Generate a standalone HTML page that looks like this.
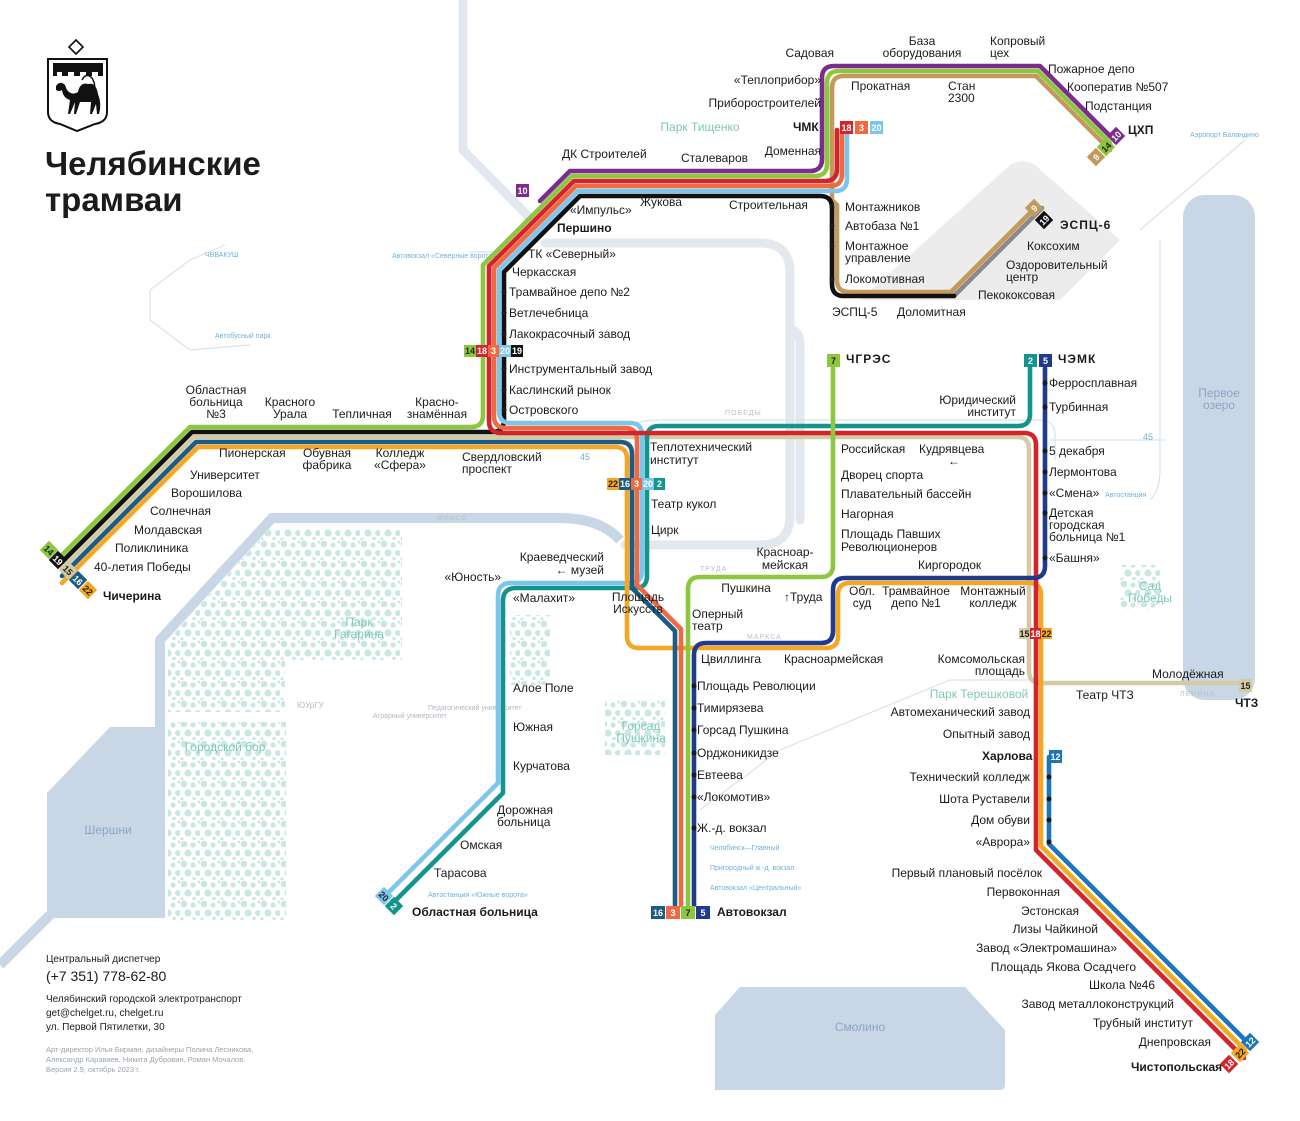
<!DOCTYPE html>
<html><head><meta charset="utf-8">
<style>
html,body{margin:0;padding:0;background:#fff}
svg{display:block}
text{font-family:"Liberation Sans",sans-serif;fill:#1b1b1b}
.s{font-size:12px}
.b{font-size:12px;font-weight:bold}
text.g{fill:#7cc9b8}
text.w{fill:#8aa6c4}
text.lb{fill:#6fb0de}
text.gr{fill:#b0b8c0}
text.st{fill:#b8c2cc;font-size:7px;letter-spacing:1px}
text.cr{fill:#9aa3ab;font-size:7.5px}
text.bd{font-size:9px;font-weight:bold;fill:#fff;text-anchor:middle}
text.bk{fill:#222}
</style></head><body>
<svg width="1300" height="1121" viewBox="0 0 1300 1121" xmlns="http://www.w3.org/2000/svg">
<defs>
<pattern id="park" width="20" height="20" patternUnits="userSpaceOnUse">
<circle cx="4" cy="4" r="3.3" fill="#c9e8df"/><circle cx="13" cy="5" r="2.6" fill="#c9e8df"/><circle cx="18" cy="13" r="3" fill="#c9e8df"/><circle cx="8" cy="13" r="3.6" fill="#c9e8df"/><circle cx="14" cy="18.5" r="1.8" fill="#c9e8df"/><circle cx="2" cy="19" r="1.6" fill="#c9e8df"/><circle cx="19" cy="2" r="1.5" fill="#c9e8df"/>
</pattern>
</defs>
<!-- water -->
<g fill="#c8d6e6">
<path d="M47 793 L110 727 L165 727 L165 918 L47 918 Z"/>
<rect x="1183" y="195" width="72" height="505" rx="22"/>
<path d="M740 987 L965 987 L1005 1030 L1005 1085 Q1005 1090 1000 1090 L715 1090 L715 1015 Z"/>
</g>
<g fill="none" stroke="#c8d6e6" stroke-width="10" stroke-linejoin="round">
<path d="M160 727 V640 L272 518 H560 Q600 518 620 540"/>
<path d="M50 915 L0 965"/>
</g>
<!-- roads -->
<g fill="none" stroke="#e2e8ee" stroke-width="9" stroke-linejoin="round" stroke-linecap="round">
<path d="M463 0 V150 L530 218"/>
<path d="M545 243 H760 Q790 243 790 273 V515 Q790 545 760 545 H625"/>
<path d="M790 330 Q800 330 800 345 V520"/>
</g>
<g fill="none" stroke="#d6e4ef" stroke-width="1.2">
<path d="M620 433 Q630 420 660 420 H1040 Q1055 420 1055 435 V460"/>
<path d="M150 290 L190 260 L225 245"/>
<path d="M150 290 V320 L190 350 L250 345"/>
<path d="M470 252 L520 252"/>
<path d="M1160 240 V470 Q1160 490 1150 500"/>
<path d="M1050 440 H1165"/>
<path d="M1140 230 L1245 140"/>
<path d="M700 810 L780 750 L950 680 L1040 680"/>
</g>
<!-- industrial zone -->
<path d="M860 300 L1010 165 Q1022 158 1035 165 L1120 240 L1060 300 Z" fill="#ececec"/>
<!-- parks -->
<g fill="url(#park)">
<path d="M168 640 L270 528 H402 V660 H285 V712 H168 Z"/>
<rect x="168" y="722" width="118" height="198"/>
<rect x="510" y="615" width="40" height="70"/>
<rect x="605" y="700" width="60" height="55"/>
<rect x="1120" y="565" width="40" height="45"/>
</g>
<text x="359" y="626" font-size="12" class="g" text-anchor="middle">Парк</text>
<text x="359" y="638" font-size="12" class="g" text-anchor="middle">Гагарина</text>
<text x="225" y="751" font-size="12" class="g" text-anchor="middle">Городской бор</text>
<text x="108" y="834" font-size="12" class="w" text-anchor="middle">Шершни</text>
<text x="1219" y="397" font-size="12" class="w" text-anchor="middle">Первое</text>
<text x="1219" y="409" font-size="12" class="w" text-anchor="middle">озеро</text>
<text x="860" y="1031" font-size="12" class="w" text-anchor="middle">Смолино</text>
<text x="700" y="131" font-size="12" class="g" text-anchor="middle">Парк Тищенко</text>
<text x="979" y="698" font-size="12" class="g" text-anchor="middle">Парк Терешковой</text>
<text x="1150" y="590" font-size="12" class="g" text-anchor="middle">Сад</text>
<text x="1150" y="602" font-size="12" class="g" text-anchor="middle">Победы</text>
<text x="641" y="730" font-size="12" class="g" text-anchor="middle">Горсад</text>
<text x="641" y="742" font-size="12" class="g" text-anchor="middle">Пушкина</text>
<text x="437" y="520" class="st">МИАСС</text>
<text x="725" y="415" class="st">ПОБЕДЫ</text>
<text x="700" y="571" class="st">ТРУДА</text>
<text x="747" y="639" class="st">МАРКСА</text>
<text x="1180" y="696" class="st">ЛЕНИНА</text>
<text x="580" y="460" font-size="9" class="lb">45</text>
<text x="1143" y="440" font-size="9" class="lb">45</text>
<text x="297" y="708" font-size="8" class="gr">ЮУрГУ</text>
<text x="373" y="718" font-size="7" class="gr">Аграрный университет</text>
<text x="428" y="710" font-size="7" class="gr">Педагогический университет</text>
<text x="215" y="338" font-size="7" class="lb">Автобусный парк</text>
<text x="205" y="257" font-size="7" class="lb">ЧВВАКУШ</text>
<text x="392" y="258" font-size="7" class="lb">Автовокзал «Северные ворота»</text>
<text x="1190" y="137" font-size="7" class="lb">Аэропорт Баландино</text>
<text x="1105" y="497" font-size="7" class="lb">Автостанция</text>
<text x="710" y="850" font-size="7" class="lb">Челябинск—Главный</text>
<text x="710" y="870" font-size="7" class="lb">Пригородный ж.-д. вокзал</text>
<text x="710" y="890" font-size="7" class="lb">Автовокзал «Центральный»</text>
<text x="428" y="897" font-size="7" class="lb">Автостанция «Южные ворота»</text>

<!-- tram lines -->
<g fill="none" stroke-width="4.6" stroke-linejoin="round" stroke-linecap="round">
<path stroke="#d3cba4" d="M62 569 L194 437 H1017 Q1029 437 1029 449 V671 Q1029 683 1041 683 H1245"/>
<path stroke="#8a8a8a" d="M1042 208 L954 296"/>
<path stroke="#c49a5c" d="M1110 150 L1036 76 H844 Q832 76 832 88 V200 L837 205 V280 Q837 292 849 292 H951 L1033 210"/>
<path stroke="#111" d="M954 296 H844 Q832 296 832 284 V208 Q832 196 820 196 H580 L504 272 V420 Q504 432 492 432 H192 L62 562"/>
<path stroke="#7b2c8c" d="M540 201 L570 171 H810 Q822 171 822 159 V78 Q822 66 834 66 H1040 L1110 136"/>
<path stroke="#8dc63f" d="M62 555 L190 427 H471 Q483 427 483 415 V265 L572 176 H815 Q827 176 827 164 V83 Q827 71 839 71 H1038 L1110 143"/>
<path stroke="#7cc6ee" d="M388 893 L498 783 V596 Q498 583 511 583 H630 Q642 583 642 571 V435 Q642 423 630 423 H511 Q499 423 499 411 V270 L578 191 H835 Q847 191 847 179 V130"/>
<path stroke="#13948c" d="M396 900 L503 793 V601 Q503 588 516 588 H635 Q647 588 647 576 V438 Q647 426 659 426 H1018 Q1030 426 1030 414 V368"/>
<path stroke="#f5a623" d="M62 583 L198 447 H615 Q627 447 627 459 V636 Q627 648 639 648 H826 Q838 648 838 636 V595 Q838 583 850 583 H1029 Q1041 583 1041 595 V846 L1245 1050"/>
<path stroke="#1b5b84" d="M62 576 L196 442 H620 Q632 442 632 454 V588 L675 631 V905"/>
<path stroke="#ee6a42" d="M681 905 V629 L637 585 V440 Q637 428 625 428 H506 Q494 428 494 416 V268 L576 186 H830 Q842 186 842 174 V130"/>
<path stroke="#d3232b" d="M1244 1058 L1036 850 V445 Q1036 433 1024 433 H501 Q489 433 489 421 V266 L574 181 H825 Q837 181 837 169 V130"/>
<path stroke="#8dc63f" d="M833 368 V565 Q833 577 821 577 H700 Q688 577 688 589 V905"/>
<path stroke="#203a8c" d="M694 905 V655 Q694 643 706 643 H821 Q833 643 833 631 V590 Q833 578 845 578 H1033 Q1045 578 1045 566 V368"/>
<path stroke="#1b75bb" d="M1049 757 V844 L1248 1043"/>
</g>
<!-- station dots -->
<g fill="#1b1b1b">
<circle cx="504" cy="292" r="2.5"/><circle cx="504" cy="313" r="2.5"/><circle cx="504" cy="334" r="2.5"/><circle cx="504" cy="369" r="2.5"/><circle cx="504" cy="390" r="2.5"/><circle cx="504" cy="410" r="2.5"/>
<circle cx="832" cy="207" r="2.5"/><circle cx="832" cy="226" r="2.5"/><circle cx="832" cy="246" r="2.5"/><circle cx="832" cy="279" r="2.5"/>
<circle cx="694" cy="686" r="2.5"/><circle cx="694" cy="708" r="2.5"/><circle cx="694" cy="730" r="2.5"/><circle cx="694" cy="753" r="2.5"/><circle cx="694" cy="775" r="2.5"/><circle cx="694" cy="797" r="2.5"/><circle cx="694" cy="828" r="2.5"/>
<circle cx="1045" cy="383" r="2.5"/><circle cx="1045" cy="407" r="2.5"/><circle cx="1045" cy="451" r="2.5"/><circle cx="1045" cy="472" r="2.5"/><circle cx="1045" cy="493" r="2.5"/><circle cx="1045" cy="513" r="2.5"/><circle cx="1045" cy="558" r="2.5"/>
<circle cx="1049" cy="777" r="2.5"/><circle cx="1049" cy="799" r="2.5"/><circle cx="1049" cy="820" r="2.5"/><circle cx="1049" cy="842" r="2.5"/>
</g>
<!-- badges -->
<g>
<rect x="840" y="121" width="13" height="13" fill="#d3232b"/><text x="846.5" y="131" class="bd">18</text>
<rect x="855" y="121" width="13" height="13" fill="#ee6a42"/><text x="861.5" y="131" class="bd">3</text>
<rect x="870" y="121" width="13" height="13" fill="#7cc6ee"/><text x="876.5" y="131" class="bd">20</text>
<rect x="516" y="184" width="13" height="13" fill="#7b2c8c"/><text x="522.5" y="194" class="bd">10</text>
<rect x="464" y="345" width="12" height="12" fill="#8dc63f"/><text x="470" y="354" class="bd bk">14</text>
<rect x="476" y="345" width="12" height="12" fill="#d3232b"/><text x="482" y="354" class="bd">18</text>
<rect x="488" y="345" width="11" height="12" fill="#ee6a42"/><text x="493.5" y="354" class="bd">3</text>
<rect x="499" y="345" width="12" height="12" fill="#7cc6ee"/><text x="505" y="354" class="bd">20</text>
<rect x="511" y="345" width="12" height="12" fill="#111"/><text x="517" y="354" class="bd">19</text>
<rect x="607" y="478" width="12" height="12" fill="#f5a623"/><text x="613" y="487" class="bd bk">22</text>
<rect x="619" y="478" width="12" height="12" fill="#1b5b84"/><text x="625" y="487" class="bd">16</text>
<rect x="631" y="478" width="11" height="12" fill="#ee6a42"/><text x="636.5" y="487" class="bd">3</text>
<rect x="642" y="478" width="12" height="12" fill="#7cc6ee"/><text x="648" y="487" class="bd">20</text>
<rect x="654" y="478" width="11" height="12" fill="#13948c"/><text x="659.5" y="487" class="bd">2</text>
<rect x="827" y="354" width="13" height="13" fill="#8dc63f"/><text x="833.5" y="364" class="bd bk">7</text>
<rect x="1024" y="354" width="13" height="13" fill="#13948c"/><text x="1030.5" y="364" class="bd">2</text>
<rect x="1039" y="354" width="13" height="13" fill="#203a8c"/><text x="1045.5" y="364" class="bd">5</text>
<rect x="651" y="906" width="14" height="13" fill="#1b5b84"/><text x="658" y="916" class="bd">16</text>
<rect x="666" y="906" width="14" height="13" fill="#ee6a42"/><text x="673" y="916" class="bd">3</text>
<rect x="681" y="906" width="14" height="13" fill="#8dc63f"/><text x="688" y="916" class="bd bk">7</text>
<rect x="696" y="906" width="14" height="13" fill="#203a8c"/><text x="703" y="916" class="bd">5</text>
<rect x="1019" y="628" width="11" height="11" fill="#d3cba4"/><text x="1024.5" y="637" class="bd bk" font-size="8">15</text>
<rect x="1030" y="628" width="11" height="11" fill="#d3232b"/><text x="1035.5" y="637" class="bd" font-size="8">18</text>
<rect x="1041" y="628" width="11" height="11" fill="#f5a623"/><text x="1046.5" y="637" class="bd bk" font-size="8">22</text>
<rect x="1049" y="750" width="13" height="13" fill="#1b75bb"/><text x="1055.5" y="760" class="bd">12</text>
<rect x="1239" y="679" width="13" height="13" fill="#d3cba4"/><text x="1245.5" y="689" class="bd bk">15</text>
<g transform="translate(1096 157) rotate(-45)"><rect x="-6.5" y="-6.5" width="13" height="13" fill="#c49a5c"/><text y="3.5" class="bd">9</text></g>
<g transform="translate(1106 147) rotate(-45)"><rect x="-6.5" y="-6.5" width="13" height="13" fill="#8dc63f"/><text y="3.5" class="bd bk">14</text></g>
<g transform="translate(1116 136) rotate(-45)"><rect x="-6.5" y="-6.5" width="13" height="13" fill="#7b2c8c"/><text y="3.5" class="bd">10</text></g>
<g transform="translate(1034 208) rotate(-45)"><rect x="-6.5" y="-6.5" width="13" height="13" fill="#c49a5c"/><text y="3.5" class="bd">9</text></g>
<g transform="translate(1044 220) rotate(-45)"><rect x="-6.5" y="-6.5" width="13" height="13" fill="#111"/><text y="3.5" class="bd">19</text></g>
<g transform="translate(49 550) rotate(45)"><rect x="-6.5" y="-6.5" width="13" height="13" fill="#8dc63f"/><text y="3.5" class="bd bk">14</text></g>
<g transform="translate(58 560) rotate(45)"><rect x="-6.5" y="-6.5" width="13" height="13" fill="#111"/><text y="3.5" class="bd">19</text></g>
<g transform="translate(68 570) rotate(45)"><rect x="-6.5" y="-6.5" width="13" height="13" fill="#d3cba4"/><text y="3.5" class="bd bk">15</text></g>
<g transform="translate(78 580) rotate(45)"><rect x="-6.5" y="-6.5" width="13" height="13" fill="#1b5b84"/><text y="3.5" class="bd">16</text></g>
<g transform="translate(88 590) rotate(45)"><rect x="-6.5" y="-6.5" width="13" height="13" fill="#f5a623"/><text y="3.5" class="bd bk">22</text></g>
<g transform="translate(384 896) rotate(45)"><rect x="-6.5" y="-6.5" width="13" height="13" fill="#7cc6ee"/><text y="3.5" class="bd bk">20</text></g>
<g transform="translate(394 906) rotate(45)"><rect x="-6.5" y="-6.5" width="13" height="13" fill="#13948c"/><text y="3.5" class="bd">2</text></g>
<g transform="translate(1229 1064) rotate(-45)"><rect x="-6.5" y="-6.5" width="13" height="13" fill="#d3232b"/><text y="3.5" class="bd">18</text></g>
<g transform="translate(1240 1053) rotate(-45)"><rect x="-6.5" y="-6.5" width="13" height="13" fill="#f5a623"/><text y="3.5" class="bd bk">22</text></g>
<g transform="translate(1250 1042) rotate(-45)"><rect x="-6.5" y="-6.5" width="13" height="13" fill="#1b75bb"/><text y="3.5" class="bd">12</text></g>
</g>
<!-- emblem -->
<g>
<path d="M76 40 L83 47 L76 54 L69 47 Z" fill="none" stroke="#111" stroke-width="1.6"/>
<path d="M48 59 H107 V112 Q107 122 95 124 L77 131 L60 124 Q48 122 48 112 Z" fill="none" stroke="#111" stroke-width="2"/>
<path d="M53 63 H103 V76 H98 V72 H92 V76 H86 V72 H80 V76 H74 V72 H68 V76 H62 V72 H57 V76 H53 Z" fill="#111"/>
<path d="M56 86 Q60 80 65 85 L67 90 Q72 96 78 92 Q80 82 88 84 Q96 82 98 94 Q102 104 99 114 L97 114 L96 104 L92 114 L90 114 L91 102 L80 102 L76 114 L74 114 L75 102 L70 114 L68 114 L70 100 Q63 98 62 90 Q59 92 56 90 Z" fill="#111"/>
<path d="M82 80 Q86 72 92 78 Q96 84 94 92" fill="none" stroke="#111" stroke-width="1.5"/>
</g>
<text x="45" y="175" font-size="33" font-weight="bold">Челябинские</text>
<text x="45" y="211" font-size="33" font-weight="bold">трамваи</text>

<!-- labels -->
<g class="s">
<text x="834" y="57" text-anchor="end">Садовая</text>
<text x="922" y="45" text-anchor="middle">База</text><text x="922" y="57" text-anchor="middle">оборудования</text>
<text x="990" y="45">Копровый</text><text x="990" y="57">цех</text>
<text x="821" y="84" text-anchor="end">«Теплоприбор»</text>
<text x="851" y="90">Прокатная</text>
<text x="948" y="90">Стан</text><text x="948" y="102">2300</text>
<text x="1048" y="73">Пожарное депо</text>
<text x="1067" y="91">Кооператив №507</text>
<text x="1085" y="110">Подстанция</text>
<text x="821" y="107" text-anchor="end">Приборостроителей</text>
<text x="821" y="155" text-anchor="end">Доменная</text>
<text x="562" y="158">ДК Строителей</text>
<text x="681" y="162">Сталеваров</text>
<text x="640" y="206">Жукова</text>
<text x="729" y="209">Строительная</text>
<text x="570" y="214">«Импульс»</text>
<text x="528" y="258">ТК «Северный»</text>
<text x="512" y="276">Черкасская</text>
<text x="509" y="296">Трамвайное депо №2</text>
<text x="509" y="317">Ветлечебница</text>
<text x="509" y="338">Лакокрасочный завод</text>
<text x="509" y="373">Инструментальный завод</text>
<text x="509" y="394">Каслинский рынок</text>
<text x="509" y="414">Островского</text>
<text x="845" y="211">Монтажников</text>
<text x="845" y="230">Автобаза №1</text>
<text x="845" y="250">Монтажное</text><text x="845" y="262">управление</text>
<text x="845" y="283">Локомотивная</text>
<text x="832" y="316">ЭСПЦ-5</text>
<text x="897" y="316">Доломитная</text>
<text x="978" y="299">Пекококсовая</text>
<text x="1006" y="269">Оздоровительный</text><text x="1006" y="281">центр</text>
<text x="1027" y="250">Коксохим</text>
<text x="1049" y="387">Ферросплавная</text>
<text x="1049" y="411">Турбинная</text>
<text x="1016" y="404" text-anchor="end">Юридический</text><text x="1016" y="416" text-anchor="end">институт</text>
<text x="216" y="394" text-anchor="middle">Областная</text><text x="216" y="406" text-anchor="middle">больница</text><text x="216" y="418" text-anchor="middle">№3</text>
<text x="290" y="406" text-anchor="middle">Красного</text><text x="290" y="418" text-anchor="middle">Урала</text>
<text x="362" y="418" text-anchor="middle">Тепличная</text>
<text x="437" y="406" text-anchor="middle">Красно-</text><text x="437" y="418" text-anchor="middle">знамённая</text>
<text x="219" y="457">Пионерская</text>
<text x="327" y="457" text-anchor="middle">Обувная</text><text x="327" y="469" text-anchor="middle">фабрика</text>
<text x="400" y="457" text-anchor="middle">Колледж</text><text x="400" y="469" text-anchor="middle">«Сфера»</text>
<text x="462" y="461">Свердловский</text><text x="462" y="473">проспект</text>
<text x="190" y="479">Университет</text>
<text x="171" y="497">Ворошилова</text>
<text x="150" y="515">Солнечная</text>
<text x="134" y="534">Молдавская</text>
<text x="115" y="552">Поликлиника</text>
<text x="94" y="571">40-летия Победы</text>
<text x="650" y="451">Теплотехнический</text><text x="650" y="464">институт</text>
<text x="651" y="508">Театр кукол</text>
<text x="651" y="534">Цирк</text>
<text x="841" y="453">Российская</text>
<text x="919" y="453">Кудрявцева</text>
<text x="948" y="465">←</text>
<text x="841" y="479">Дворец спорта</text>
<text x="841" y="498">Плавательный бассейн</text>
<text x="841" y="518">Нагорная</text>
<text x="841" y="538">Площадь Павших</text><text x="841" y="551">Революционеров</text>
<text x="918" y="569">Киргородок</text>
<text x="1049" y="455">5 декабря</text>
<text x="1049" y="476">Лермонтова</text>
<text x="1049" y="497">«Смена»</text>
<text x="1049" y="517">Детская</text><text x="1049" y="529">городская</text><text x="1049" y="541">больница №1</text>
<text x="1049" y="562">«Башня»</text>
<text x="604" y="561" text-anchor="end">Краеведческий</text><text x="604" y="574" text-anchor="end">← музей</text>
<text x="501" y="581" text-anchor="end">«Юность»</text>
<text x="513" y="602">«Малахит»</text>
<text x="638" y="601" text-anchor="middle">Площадь</text><text x="638" y="613" text-anchor="middle">Искусств</text>
<text x="785" y="556" text-anchor="middle">Красноар-</text><text x="785" y="569" text-anchor="middle">мейская</text>
<text x="746" y="592" text-anchor="middle">Пушкина</text>
<text x="784" y="601">↑Труда</text>
<text x="862" y="595" text-anchor="middle">Обл.</text><text x="862" y="607" text-anchor="middle">суд</text>
<text x="916" y="595" text-anchor="middle">Трамвайное</text><text x="916" y="607" text-anchor="middle">депо №1</text>
<text x="993" y="595" text-anchor="middle">Монтажный</text><text x="993" y="607" text-anchor="middle">колледж</text>
<text x="692" y="618">Оперный</text><text x="692" y="630">театр</text>
<text x="701" y="663">Цвиллинга</text>
<text x="784" y="663">Красноармейская</text>
<text x="1025" y="663" text-anchor="end">Комсомольская</text><text x="1025" y="675" text-anchor="end">площадь</text>
<text x="1152" y="678">Молодёжная</text>
<text x="1076" y="699">Театр ЧТЗ</text>
<text x="1030" y="716" text-anchor="end">Автомеханический завод</text>
<text x="1030" y="738" text-anchor="end">Опытный завод</text>
<text x="1030" y="781" text-anchor="end">Технический колледж</text>
<text x="1030" y="803" text-anchor="end">Шота Руставели</text>
<text x="1030" y="824" text-anchor="end">Дом обуви</text>
<text x="1030" y="846" text-anchor="end">«Аврора»</text>
<text x="1042" y="877" text-anchor="end">Первый плановый посёлок</text>
<text x="1060" y="896" text-anchor="end">Первоконная</text>
<text x="1079" y="915" text-anchor="end">Эстонская</text>
<text x="1098" y="933" text-anchor="end">Лизы Чайкиной</text>
<text x="1117" y="952" text-anchor="end">Завод «Электромашина»</text>
<text x="1136" y="971" text-anchor="end">Площадь Якова Осадчего</text>
<text x="1155" y="989" text-anchor="end">Школа №46</text>
<text x="1174" y="1008" text-anchor="end">Завод металлоконструкций</text>
<text x="1193" y="1027" text-anchor="end">Трубный институт</text>
<text x="1211" y="1046" text-anchor="end">Днепровская</text>
<text x="697" y="690">Площадь Революции</text>
<text x="697" y="712">Тимирязева</text>
<text x="697" y="734">Горсад Пушкина</text>
<text x="697" y="757">Орджоникидзе</text>
<text x="697" y="779">Евтеева</text>
<text x="697" y="801">«Локомотив»</text>
<text x="697" y="832">Ж.-д. вокзал</text>
<text x="513" y="692">Алое Поле</text>
<text x="513" y="731">Южная</text>
<text x="513" y="770">Курчатова</text>
<text x="497" y="814">Дорожная</text><text x="497" y="826">больница</text>
<text x="460" y="849">Омская</text>
<text x="434" y="877">Тарасова</text>
</g>
<g class="b">
<text x="793" y="131">ЧМК</text>
<text x="1128" y="134">ЦХП</text>
<text x="557" y="232">Першино</text>
<text x="1060" y="229" letter-spacing="1">ЭСПЦ-6</text>
<text x="846" y="363" letter-spacing="1">ЧГРЭС</text>
<text x="1058" y="363" letter-spacing="1">ЧЭМК</text>
<text x="103" y="600">Чичерина</text>
<text x="1235" y="707">ЧТЗ</text>
<text x="982" y="760">Харлова</text>
<text x="1131" y="1071">Чистопольская</text>
<text x="717" y="916">Автовокзал</text>
<text x="412" y="916">Областная больница</text>
</g>
<!-- footer -->
<text x="46" y="962" font-size="10">Центральный диспетчер</text>
<text x="46" y="981" font-size="14">(+7 351) 778-62-80</text>
<text x="46" y="1002" font-size="10">Челябинский городской электротранспорт</text>
<text x="46" y="1016" font-size="10">get@chelget.ru, chelget.ru</text>
<text x="46" y="1030" font-size="10">ул. Первой Пятилетки, 30</text>
<text x="46" y="1052" class="cr">Арт-директор Илья Бирман, дизайнеры Полина Лесникова,</text>
<text x="46" y="1062" class="cr">Александр Караваев, Никита Дубровин, Роман Мочалов.</text>
<text x="46" y="1072" class="cr">Версия 2.9, октябрь 2023 г.</text>
</svg>
</body></html>
